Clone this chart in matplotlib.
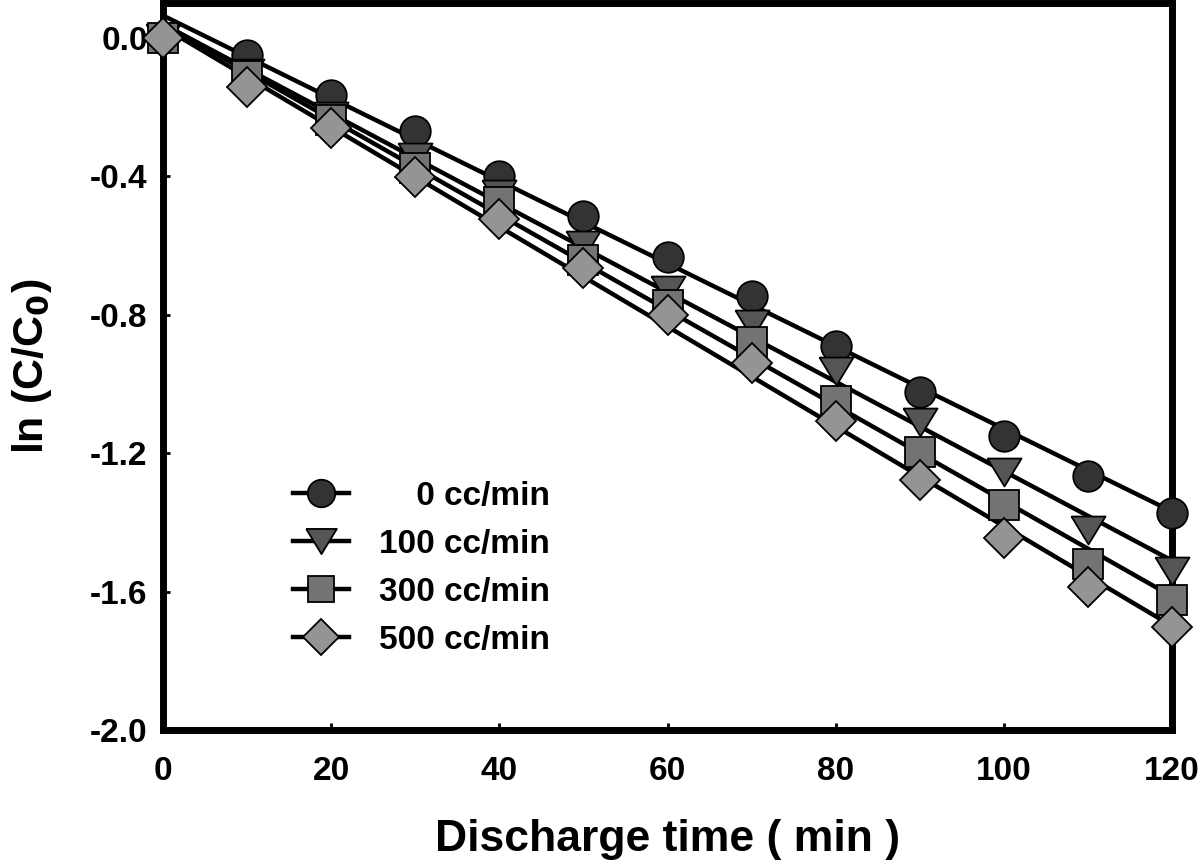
import numpy as np
import matplotlib
matplotlib.use("Agg")
import matplotlib.pyplot as plt
from matplotlib.lines import Line2D

plt.rcParams['font.family'] = ['Liberation Sans', 'DejaVu Sans']
plt.rcParams['font.weight'] = 'bold'
plt.rcParams['axes.unicode_minus'] = False

# discharge time (min)
time = [0, 10, 20, 30, 40, 50, 60, 70, 80, 90, 100, 110, 120]

# ln(C/C0)
flow_0 = [0.0, -0.049, -0.165, -0.271, -0.399, -0.516, -0.634, -0.746, -0.890, -1.023, -1.150, -1.266, -1.373]
flow_100 = [0.0, -0.101, -0.225, -0.345, -0.451, -0.600, -0.728, -0.827, -0.962, -1.110, -1.254, -1.422, -1.540]
flow_300 = [0.0, -0.112, -0.237, -0.376, -0.474, -0.642, -0.772, -0.879, -1.049, -1.197, -1.350, -1.520, -1.624]
flow_500 = [0.0, -0.142, -0.260, -0.404, -0.523, -0.665, -0.800, -0.939, -1.107, -1.277, -1.445, -1.587, -1.702]

labels = ['\u2007\u20070 cc/min', '100 cc/min', '300 cc/min', '500 cc/min']
yticks = [-2.0, -1.6, -1.2, -0.8, -0.4, 0.0]

# triangle a bit flatter than matplotlib's 'v'
tri = [(-1, 0.82), (1, 0.82), (0, -0.82), (-1, 0.82)]

styles = [
    dict(marker='o', ms=22, mfc='#333333'),
    dict(marker=tri, ms=24.5, mfc='#555555'),
    dict(marker='s', ms=21.5, mfc='#737373'),
    dict(marker='D', ms=20, mfc='#949494'),
]

fig = plt.figure(figsize=(12, 8.65), dpi=100)
ax = fig.add_axes([0.1358, 0.1561, 0.8409, 0.8404])

t = np.array(time, dtype=float)
series = [flow_0, flow_100, flow_300, flow_500]

# linear fits first, markers on top
for y in series:
    k, b = np.polyfit(t, y, 1)
    ax.plot([0, 120], [b, b + k * 120], color='black', lw=3.2, zorder=2)

handles = []
for i, (y, st) in enumerate(zip(series, styles)):
    ax.plot(t, y, linestyle='none', marker=st['marker'], markersize=st['ms'],
            markerfacecolor=st['mfc'], markeredgecolor='black', markeredgewidth=1.3,
            zorder=3 + i, clip_on=False)
    handles.append(Line2D([], [], color='black', lw=3.2, marker=st['marker'],
                          markersize=st['ms'] * 0.9, markerfacecolor=st['mfc'],
                          markeredgecolor='black', markeredgewidth=1.3))

ax.set_xlim(0, 120)
ax.set_ylim(-2.0, 0.1)
ax.set_xticks(np.arange(0, 121, 20))
ax.set_yticks(yticks)
ax.set_yticklabels([f'{v:.1f}' for v in yticks])

for s in ax.spines.values():
    s.set_linewidth(5)
ax.tick_params(direction='in', length=5, width=2, labelsize=24)
ax.tick_params(axis='x', pad=19)
ax.tick_params(axis='y', pad=11)

ax.set_xlabel('Discharge time ( min )', fontsize=32, fontweight='bold', labelpad=23)
ax.set_ylabel(r'ln (C/C$_\mathbf{0}$)', fontsize=31, fontweight='bold', labelpad=26)

leg = fig.legend(handles, labels, loc='upper left', bbox_to_anchor=(0.244, 0.444),
                 frameon=False, fontsize=24, handlelength=1.7, handletextpad=0.9,
                 labelspacing=0.51, borderpad=0, borderaxespad=0)

fig.savefig('out.png', dpi=100)
